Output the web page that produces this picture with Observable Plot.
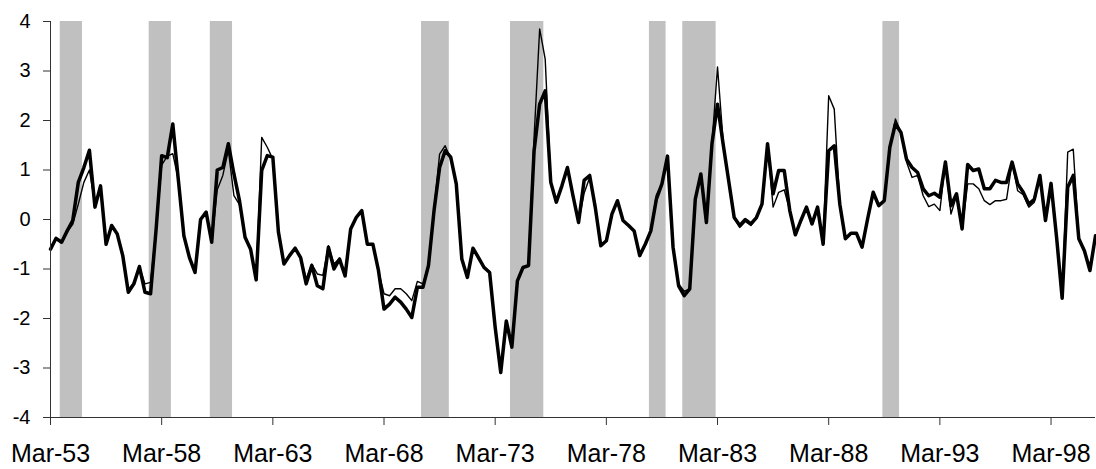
<!DOCTYPE html>
<html><head><meta charset="utf-8">
<script src="https://cdn.jsdelivr.net/npm/d3@7"></script>
<script src="https://cdn.jsdelivr.net/npm/@observablehq/plot@0.6"></script>
<style>html,body{margin:0;padding:0;background:#fff;} #chart svg{display:block;}</style>
</head><body><div id="chart"></div>
<script>
// Quarterly series, first observation 1953Q1 (Mar-53)
const firstYear = 1953;
const thickSeries = [
-0.60,-0.38,-0.46,-0.23,-0.02,0.75,1.05,1.40,0.25,0.68,
-0.50,-0.12,-0.29,-0.73,-1.47,-1.30,-0.95,-1.47,-1.50,-0.20,
1.29,1.25,1.93,0.80,-0.33,-0.77,-1.07,0.00,0.15,-0.46,
1.00,1.05,1.53,0.92,0.38,-0.36,-0.60,-1.22,0.99,1.29,
1.26,-0.25,-0.90,-0.73,-0.58,-0.77,-1.30,-0.93,-1.34,-1.40,
-0.56,-1.00,-0.80,-1.14,-0.19,0.04,0.18,-0.50,-0.50,-1.03,
-1.81,-1.71,-1.57,-1.67,-1.81,-1.98,-1.37,-1.37,-0.93,0.18,
1.05,1.39,1.26,0.72,-0.80,-1.17,-0.58,-0.77,-0.97,-1.07,
-2.18,-3.09,-2.05,-2.58,-1.24,-0.97,-0.93,1.39,2.33,2.60,
0.75,0.35,0.68,1.05,0.48,-0.06,0.79,0.89,0.25,-0.53,
-0.43,0.11,0.38,-0.02,-0.12,-0.23,-0.73,-0.50,-0.23,0.41,
0.72,1.28,-0.56,-1.34,-1.54,-1.40,0.41,0.92,-0.06,1.53,
2.33,1.53,0.79,0.04,-0.12,0.00,-0.09,0.04,0.31,1.53,
0.52,0.99,0.99,0.18,-0.31,-0.02,0.25,-0.09,0.25,-0.50,
1.39,1.49,0.31,-0.39,-0.28,-0.28,-0.56,0.01,0.55,0.28,
0.38,1.46,1.93,1.76,1.22,1.05,0.95,0.62,0.48,0.53,
0.45,1.16,0.28,0.52,-0.19,1.11,0.99,1.02,0.62,0.62,
0.79,0.75,0.75,1.16,0.72,0.55,0.31,0.41,0.89,-0.02,
0.73,-0.36,-1.59,0.65,0.89,-0.39,-0.63,-1.03,-0.33
];
const thinSeries = [
-0.60,-0.40,-0.46,-0.25,-0.10,0.31,0.75,1.00,0.30,0.62,
-0.50,-0.15,-0.30,-0.73,-1.42,-1.27,-0.95,-1.30,-1.27,-0.20,
1.10,1.28,1.33,0.80,-0.33,-0.77,-1.07,0.00,0.15,-0.46,
0.60,0.89,1.40,0.48,0.30,-0.36,-0.60,-1.22,1.66,1.46,
1.22,-0.25,-0.90,-0.73,-0.58,-0.77,-1.20,-0.90,-1.10,-1.13,
-0.53,-0.90,-0.78,-1.10,-0.19,0.06,0.18,-0.50,-0.50,-1.03,
-1.50,-1.54,-1.40,-1.40,-1.50,-1.64,-1.25,-1.30,-0.93,0.20,
1.32,1.49,1.22,0.75,-0.80,-1.17,-0.58,-0.80,-0.95,-1.05,
-2.18,-3.09,-2.05,-2.58,-1.24,-0.97,-0.93,1.66,3.85,3.24,
0.75,0.35,0.68,1.00,0.48,-0.06,0.53,0.85,0.25,-0.53,
-0.43,0.11,0.38,-0.02,-0.12,-0.23,-0.73,-0.50,-0.23,0.50,
0.72,1.28,-0.56,-1.30,-1.45,-1.40,0.41,0.92,-0.06,1.53,
3.08,1.60,0.79,0.04,-0.16,-0.04,-0.12,0.02,0.31,1.53,
0.25,0.55,0.60,0.18,-0.31,-0.02,0.25,-0.09,0.25,-0.50,
2.50,2.23,0.31,-0.39,-0.28,-0.28,-0.56,0.01,0.55,0.28,
0.38,1.46,2.03,1.76,1.16,0.85,0.89,0.48,0.26,0.31,
0.18,1.16,0.11,0.48,-0.19,0.72,0.72,0.62,0.38,0.30,
0.38,0.38,0.41,1.16,0.58,0.50,0.25,0.35,0.89,-0.02,
0.73,-0.36,-1.59,1.36,1.42,-0.39,-0.63,-1.03,-0.33
];
// Shaded recession quarters (start / end)
const recessionStart = ["1953Q3","1957Q3","1960Q2","1969Q4","1973Q4","1980Q1","1981Q3","1990Q3"];
const recessionEnd   = ["1954Q2","1958Q2","1961Q1","1970Q4","1975Q1","1980Q3","1982Q4","1991Q1"];
const xTickLabels = ["Mar-53","Mar-58","Mar-63","Mar-68","Mar-73","Mar-78","Mar-83","Mar-88","Mar-93","Mar-98"];
const yTicks = [-4,-3,-2,-1,0,1,2,3,4];

const qIndex = q => (+q.slice(0,4) - firstYear) * 4 + (+q.slice(5) - 1);
const labelIndex = l => { const yy = +l.slice(4); return ((yy < 50 ? 2000 + yy : 1900 + yy) - firstYear) * 4; };
const series = thickSeries.map((v, i) => ({i, thick: v, thin: thinSeries[i]}));
const bands = recessionStart.map((s, k) => ({x1: qIndex(s) - 0.25, x2: qIndex(recessionEnd[k]) + 0.75}));
const tickIdx = xTickLabels.map(labelIndex);

const font = "'Liberation Sans', Arial, Helvetica, sans-serif";
const chart = Plot.plot({
  width: 1096, height: 469,
  marginLeft: 50, marginRight: 1, marginTop: 21, marginBottom: 52,
  style: {fontFamily: font, background: "#fff", color: "#000"},
  x: {domain: [0, thickSeries.length - 1], axis: null},
  y: {domain: [-4, 4], axis: null},
  marks: [
    Plot.rect(bands, {x1: "x1", x2: "x2", y1: -4, y2: 4, fill: "#c0c0c0"}),
    Plot.line(series, {x: "i", y: "thick", stroke: "#000", strokeWidth: 3.5, strokeLinejoin: "round"}),
    Plot.line(series, {x: "i", y: "thin", stroke: "#000", strokeWidth: 1.4, strokeLinejoin: "round"}),
    Plot.ruleX([0], {stroke: "#333", strokeWidth: 1}),
    Plot.ruleY([-4], {stroke: "#333", strokeWidth: 1}),
    Plot.axisY({ticks: yTicks, tickFormat: d => String(d), tickSize: 7, tickPadding: 13, fontSize: 20, stroke: "#333"}),
    Plot.axisX({ticks: tickIdx, tickFormat: d => xTickLabels[tickIdx.indexOf(d)], tickSize: 8, tickPadding: 19, fontSize: 25, stroke: "#333"})
  ]
});
document.getElementById("chart").appendChild(chart);
</script>
</body></html>
